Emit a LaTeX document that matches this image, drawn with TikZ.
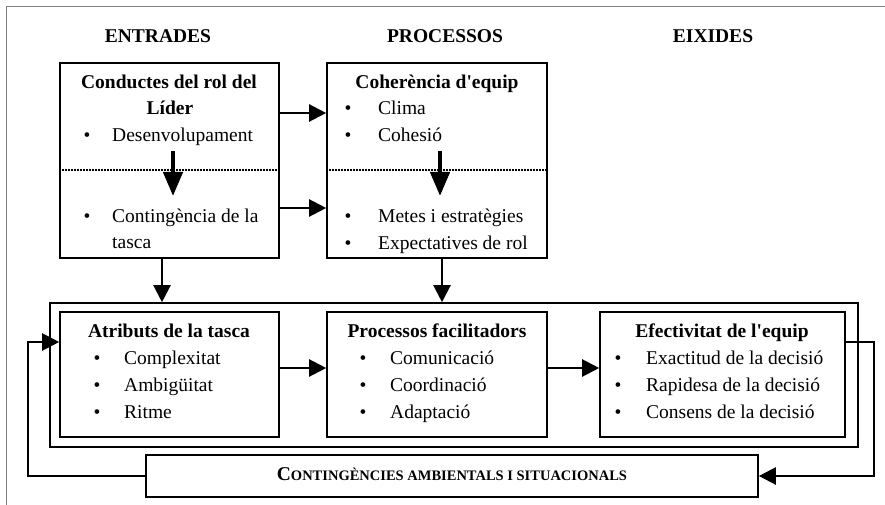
\documentclass[tikz,border=0pt]{standalone}
\usepackage{fontspec}
\setmainfont{Liberation Serif}[Ligatures=TeXOff]
\usetikzlibrary{arrows.meta}
\begin{document}
\begin{tikzpicture}[x=1pt,y=-1pt,
  every node/.style={inner sep=0pt, font=\fontsize{19.5}{24}\selectfont},
  box/.style={draw, line width=1.6pt},
  txt/.style={anchor=base west},
  ttl/.style={anchor=base, font=\fontsize{19.5}{24}\selectfont\bfseries},
  bul/.style={anchor=base},
  arr/.style={line width=2.2pt, -{Triangle[length=17pt,width=17pt]}},
  bigarr/.style={line width=4.5pt, -{Triangle[length=24pt,width=19pt]}},
  sep/.style={line width=1.5pt, dash pattern=on 1.5pt off 1.5pt},
]
\useasboundingbox (0,0) rectangle (885,505);
% outer frame
\draw[gray, line width=1pt] (6,505) -- (6,7) -- (885,7);

% headers
\node[ttl] (hE) at (158,43) {ENTRADES};
\node[ttl] (hP) at (445,43) {PROCESSOS};
\node[ttl] (hX) at (713,43) {EIXIDES};

% boxes
\node[box, minimum width=219, minimum height=195] (b1) at (169.5,160.5) {};
\node[box, minimum width=220, minimum height=195] (b2) at (437,160.5) {};
\node[box, minimum width=808, minimum height=144] (outer) at (454,375) {};
\node[box, minimum width=219, minimum height=125] (a1) at (169.5,374.5) {};
\node[box, minimum width=220, minimum height=125] (a2) at (437,374.5) {};
\node[box, minimum width=245, minimum height=125] (a3) at (722.5,374.5) {};
\node[box, minimum width=612, minimum height=42] (cont) at (452,476) {};
\node[anchor=base, font=\bfseries] (contT) at (452,480)
  {{\fontsize{19.5}{24}\selectfont C}{\fontsize{14.5}{18}\selectfont ONTINGÈNCIES AMBIENTALS I SITUACIONALS}};

% dotted separators
\draw[sep] (b1.west |- 0,170) -- (b1.east |- 0,170);
\draw[sep] (b2.west |- 0,170) -- (b2.east |- 0,170);

% box 1 text
\node[ttl] (t1a) at (169,89) {Conductes del rol del};
\node[ttl] (t1b) at (170,115) {Líder};
\node[bul] (u1a) at (87,142) {\textbullet};
\node[txt] (i1a) at (112,142) {Desenvolupament};
\node[bul] (u1b) at (87,222) {\textbullet};
\node[txt] (i1b) at (112,222) {Contingència de la};
\node[txt] (i1c) at (112,248) {tasca};

% box 2 text
\node[ttl] (t2) at (437,89) {Coherència d'equip};
\node[bul] (u2a) at (348,115) {\textbullet};
\node[txt] (i2a) at (378,115) {Clima};
\node[bul] (u2b) at (348,142) {\textbullet};
\node[txt] (i2b) at (378,142) {Cohesió};
\node[bul] (u2c) at (348,222) {\textbullet};
\node[txt] (i2c) at (378,222) {Metes i estratègies};
\node[bul] (u2d) at (348,249) {\textbullet};
\node[txt] (i2d) at (378,249) {Expectatives de rol};

% a1 text
\node[ttl] (ta1) at (169,337) {Atributs de la tasca};
\node[bul] (ua1a) at (97,364) {\textbullet};
\node[txt] (ia1a) at (124,364) {Complexitat};
\node[bul] (ua1b) at (97,391) {\textbullet};
\node[txt] (ia1b) at (124,391) {Ambigüitat};
\node[bul] (ua1c) at (97,418) {\textbullet};
\node[txt] (ia1c) at (124,418) {Ritme};

% a2 text
\node[ttl] (ta2) at (437,337) {Processos facilitadors};
\node[bul] (ua2a) at (363,364) {\textbullet};
\node[txt] (ia2a) at (390,364) {Comunicació};
\node[bul] (ua2b) at (363,391) {\textbullet};
\node[txt] (ia2b) at (390,391) {Coordinació};
\node[bul] (ua2c) at (363,418) {\textbullet};
\node[txt] (ia2c) at (390,418) {Adaptació};

% a3 text
\node[ttl] (ta3) at (722,337) {Efectivitat de l'equip};
\node[bul] (ua3a) at (618,364) {\textbullet};
\node[txt] (ia3a) at (646,364) {Exactitud de la decisió};
\node[bul] (ua3b) at (618,391) {\textbullet};
\node[txt] (ia3b) at (646,391) {Rapidesa de la decisió};
\node[bul] (ua3c) at (618,418) {\textbullet};
\node[txt] (ia3c) at (646,418) {Consens de la decisió};

% big internal arrows
\coordinate (s1) at (173,151);
\coordinate (e1) at (173,196);
\coordinate (s2) at (440,151);
\coordinate (e2) at (440,196);
\draw[bigarr] (s1) -- (e1);
\draw[bigarr] (s2) -- (e2);

% connectors
\draw[arr] (b1.east |- 0,113) -- (b2.west |- 0,113);
\draw[arr] (b1.east |- 0,208) -- (b2.west |- 0,208);
\draw[arr] (b1.south -| 162,0) -- (outer.north -| 162,0);
\draw[arr] (b2.south -| 442,0) -- (outer.north -| 442,0);
\draw[arr] (a1.east |- 0,368) -- (a2.west |- 0,368);
\draw[arr] (a2.east |- 0,368) -- (a3.west |- 0,368);
\draw[arr] (cont.west) -| (28,342) -- (a1.west |- 0,342);
\draw[arr] (a3.east |- 0,342) -| (874,476) -- (cont.east);
\end{tikzpicture}
\end{document}
